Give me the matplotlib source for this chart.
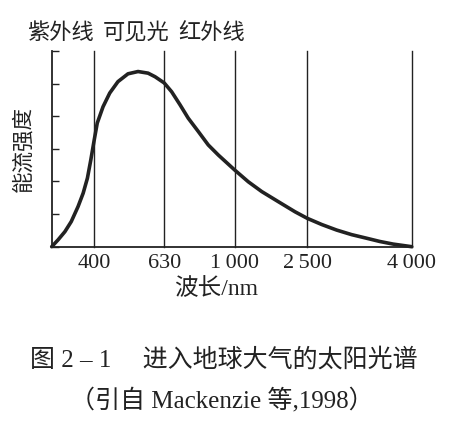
import numpy as np
import matplotlib
matplotlib.use("Agg")
import matplotlib.pyplot as plt

# wavelength (nm) and relative energy flux
wavelength = [300, 315, 331, 346, 362, 374, 384, 392, 400, 410, 429, 451, 478,
              511, 544, 577, 600, 630, 669, 713, 756, 809, 861, 914, 1000,
              1281, 1559, 1902, 2248, 2500, 2708, 2922, 3137, 3351, 3542,
              3733, 4000]
flux = [0.0, 0.21, 0.46, 0.77, 1.23, 1.64, 2.10, 2.66, 3.27, 3.79, 4.29, 4.71,
        5.06, 5.30, 5.37, 5.32, 5.21, 5.02, 4.75, 4.35, 3.94, 3.53, 3.12,
        2.81, 2.35, 1.99, 1.69, 1.38, 1.07, 0.87, 0.68, 0.51, 0.37, 0.26,
        0.16, 0.08, 0.0]

tick_waves = [400, 630, 1000, 2500, 4000]
tick_labels = ["400", "630", "1\u2009000", "2\u2009500", "4\u2009000"]
bands = ["紫外线", "可见光", "红外线"]

# the original x axis is schematic: piecewise linear between the marked wavelengths
scale_waves = [300, 400, 630, 1000, 2500, 4000]
scale_pos = [0, 42.5, 112.5, 183, 255.5, 360]


def fwd(x):
    return np.interp(x, scale_waves, scale_pos)


def inv(p):
    return np.interp(p, scale_pos, scale_waves)


serif = ["Liberation Serif", "DejaVu Serif"]
cjk = ["Liberation Serif", "Noto Sans CJK SC", "DejaVu Sans"]
ink = "#222222"

fig = plt.figure(figsize=(4.67, 4.22), dpi=100)
ax = fig.add_axes([0.1107, 0.4154, 0.771, 0.4638])
ax.set_xscale("function", functions=(fwd, inv))
ax.set_xlim(300, 4000)
ax.set_ylim(0, 6)

for w in tick_waves:
    ax.axvline(w, color=ink, lw=1.0, zorder=1, clip_on=False)

ax.plot(wavelength, flux, color=ink, lw=2.6, clip_on=False, zorder=3,
        solid_capstyle="round", solid_joinstyle="round")

for s in ["top", "right"]:
    ax.spines[s].set_visible(False)
for s in ["left", "bottom"]:
    ax.spines[s].set_color(ink)
    ax.spines[s].set_linewidth(1.3)

ax.set_yticks(range(7))
ax.set_yticklabels([])
ax.tick_params(axis="y", direction="in", length=5, width=1.0, color=ink)
ax.set_xticks(tick_waves)
ax.set_xticklabels(tick_labels, family=serif, fontsize=16, color=ink)
ax.tick_params(axis="x", length=0, pad=5)
ax.minorticks_off()

ax.set_ylabel("能流强度", family=cjk, fontsize=15.5, color=ink, labelpad=9)
fig.text(216 / 467, 1 - 289 / 422, "波长/nm", family=cjk, fontsize=17,
         color=ink, ha="center", va="center")

for name, xp in zip(bands, [60, 136, 212]):
    fig.text(xp / 467, 1 - 34 / 422, name, family=cjk, fontsize=16,
             color=ink, ha="center", va="center")

fig.text(224 / 467, 1 - 360 / 422, "图 2 – 1　 进入地球大气的太阳光谱",
         family=cjk, fontsize=18, color=ink, ha="center", va="center")
fig.text(222 / 467, 1 - 400 / 422, "（引自 Mackenzie 等,1998）",
         family=cjk, fontsize=18, color=ink, ha="center", va="center")

fig.savefig("out.png", dpi=100, facecolor="white")
